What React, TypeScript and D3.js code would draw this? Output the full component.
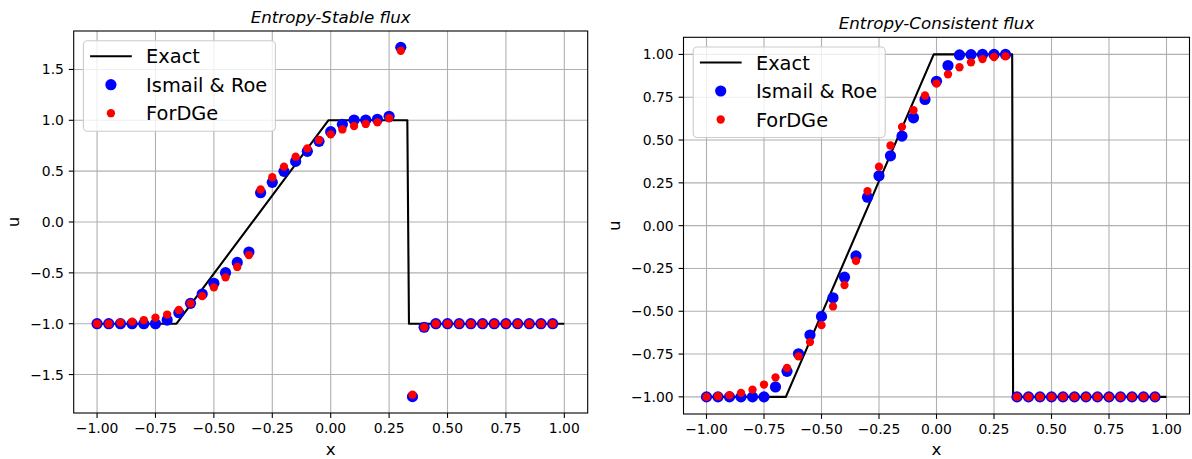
import React from "react";
import * as d3 from "d3";

// ---------- data ----------
const xPts = [
  -1.0, -0.95, -0.9, -0.85, -0.8, -0.75, -0.7, -0.65, -0.6, -0.55,
  -0.5, -0.45, -0.4, -0.35, -0.3, -0.25, -0.2, -0.15, -0.1, -0.05,
  0.0, 0.05, 0.1, 0.15, 0.2, 0.25, 0.3, 0.35, 0.4, 0.45,
  0.5, 0.55, 0.6, 0.65, 0.7, 0.75, 0.8, 0.85, 0.9, 0.95,
];

const stableIsmailRoe = [
  -1.0, -1.0, -1.0, -1.0, -1.0, -1.0, -0.964, -0.892, -0.8, -0.708,
  -0.603, -0.498, -0.397, -0.295, 0.288, 0.39, 0.498, 0.596, 0.695, 0.793,
  0.888, 0.96, 1.003, 1.003, 1.01, 1.04, 1.717, -1.717, -1.035, -1.0,
  -1.0, -1.0, -1.0, -1.0, -1.0, -1.0, -1.0, -1.0, -1.0, -1.0,
];
const stableForDGe = [
  -1.0, -1.0, -0.99, -0.98, -0.964, -0.94, -0.91, -0.865, -0.8, -0.728,
  -0.643, -0.544, -0.442, -0.325, 0.32, 0.44, 0.544, 0.642, 0.724, 0.806,
  0.862, 0.91, 0.944, 0.964, 0.98, 1.02, 1.684, -1.698, -1.035, -1.0,
  -1.0, -1.0, -1.0, -1.0, -1.0, -1.0, -1.0, -1.0, -1.0, -1.0,
];
const consistentIsmailRoe = [
  -1.0, -1.0, -1.0, -1.0, -1.0, -1.0, -0.942, -0.851, -0.748, -0.639,
  -0.53, -0.421, -0.301, -0.177, 0.166, 0.291, 0.408, 0.523, 0.63, 0.737,
  0.843, 0.935, 0.997, 0.999, 1.0, 1.0, 1.0, -1.0, -1.0, -1.0,
  -1.0, -1.0, -1.0, -1.0, -1.0, -1.0, -1.0, -1.0, -1.0, -1.0,
];
const consistentForDGe = [
  -1.0, -0.996, -0.99, -0.977, -0.958, -0.928, -0.886, -0.831, -0.763, -0.68,
  -0.581, -0.472, -0.347, -0.206, 0.202, 0.344, 0.468, 0.577, 0.674, 0.76,
  0.83, 0.884, 0.925, 0.954, 0.973, 0.985, 0.989, -1.0, -1.0, -1.0,
  -1.0, -1.0, -1.0, -1.0, -1.0, -1.0, -1.0, -1.0, -1.0, -1.0,
];

const stableExactX = [-1.0, -0.66, -0.01, 0.328, 0.335, 1.0];
const stableExactU = [-1.0, -1.0, 1.0, 1.0, -1.0, -1.0];
const consistentExactX = [-1.0, -0.655, -0.012, 0.329, 0.333, 1.0];
const consistentExactU = [-1.0, -1.0, 1.0, 1.0, -1.0, -1.0];

const xTicks = [-1.0, -0.75, -0.5, -0.25, 0.0, 0.25, 0.5, 0.75, 1.0];
const stableYTicks = [-1.5, -1.0, -0.5, 0.0, 0.5, 1.0, 1.5];
const consistentYTicks = [-1.0, -0.75, -0.5, -0.25, 0.0, 0.25, 0.5, 0.75, 1.0];

const legendLabels = ["Exact", "Ismail & Roe", "ForDGe"];

// ---------- styles ----------
const FONT = "DejaVu Sans, sans-serif";
const TICK_FS = 13.9;
const LABEL_FS = 16.7;
const LEGEND_FS = 19.4;
const GRID = "#b0b0b0";

type PanelProps = {
  left: number; right: number; top: number; bottom: number;
  yDomain: [number, number];
  yTicks: number[];
  yFmt: string;
  title: string;
  ylabelX: number;
  exactX: number[]; exactU: number[];
  ir: number[]; fd: number[];
};

function Panel(p: PanelProps) {
  const x = d3.scaleLinear().domain([-1.1, 1.1]).range([p.left, p.right]);
  const y = d3.scaleLinear().domain(p.yDomain).range([p.bottom, p.top]);
  const fx = d3.format(".2f");
  const fy = d3.format(p.yFmt);
  const line = d3.line<number>().x((d, i) => x(p.exactX[i])).y((d) => y(d));
  const cx = (p.left + p.right) / 2;
  const cy = (p.top + p.bottom) / 2;
  const tl = 4.9;

  const lgX = p.left + 9.7;
  const lgY = p.top + 9.7;
  const rows = [15.5, 44, 72.5];

  return (
    <g>
      <defs>
        <clipPath id={`clip-${p.left}`}>
          <rect x={p.left} y={p.top} width={p.right - p.left} height={p.bottom - p.top} />
        </clipPath>
      </defs>
      {/* grid */}
      {xTicks.map((t) => (
        <line key={`gx${t}`} x1={x(t)} x2={x(t)} y1={p.top} y2={p.bottom} stroke={GRID} strokeWidth={1.1} />
      ))}
      {p.yTicks.map((t) => (
        <line key={`gy${t}`} x1={p.left} x2={p.right} y1={y(t)} y2={y(t)} stroke={GRID} strokeWidth={1.1} />
      ))}
      <g clipPath={`url(#clip-${p.left})`}>
        <path d={line(p.exactU) || ""} fill="none" stroke="black" strokeWidth={2.1} strokeLinejoin="round" />
        {p.ir.map((u, i) => (
          <circle key={`b${i}`} cx={x(xPts[i])} cy={y(u)} r={5.6} fill="#0000ff" />
        ))}
        {p.fd.map((u, i) => (
          <circle key={`r${i}`} cx={x(xPts[i])} cy={y(u)} r={4.15} fill="#ff0000" />
        ))}
      </g>
      {/* frame */}
      <rect x={p.left} y={p.top} width={p.right - p.left} height={p.bottom - p.top} fill="none" stroke="black" strokeWidth={1.1} />
      {/* x ticks */}
      {xTicks.map((t) => (
        <g key={`tx${t}`}>
          <line x1={x(t)} x2={x(t)} y1={p.bottom} y2={p.bottom + tl} stroke="black" strokeWidth={1.1} />
          <text x={x(t)} y={p.bottom + tl + 4.9 + 10.6} textAnchor="middle" fontFamily={FONT} fontSize={TICK_FS} fill="black">
            {fx(t)}
          </text>
        </g>
      ))}
      {p.yTicks.map((t) => (
        <g key={`ty${t}`}>
          <line x1={p.left - tl} x2={p.left} y1={y(t)} y2={y(t)} stroke="black" strokeWidth={1.1} />
          <text x={p.left - tl - 4.9} y={y(t) + 5} textAnchor="end" fontFamily={FONT} fontSize={TICK_FS} fill="black">
            {fy(t)}
          </text>
        </g>
      ))}
      {/* labels */}
      <text x={cx} y={454.5} textAnchor="middle" fontFamily={FONT} fontSize={LABEL_FS} fill="black">x</text>
      <text transform={`translate(${p.ylabelX},${cy}) rotate(-90)`} textAnchor="middle" fontFamily={FONT} fontSize={LABEL_FS} fill="black">u</text>
      <text x={cx} y={p.top - 8.3} textAnchor="middle" fontFamily={FONT} fontStyle="italic" fontSize={LABEL_FS} fill="black">
        {p.title}
      </text>
      {/* legend */}
      <rect x={lgX} y={lgY} width={192} height={90.5} rx={4} ry={4} fill="white" fillOpacity={0.8} stroke="#cccccc" strokeWidth={1.1} />
      <line x1={lgX + 6.7} x2={lgX + 48.4} y1={lgY + rows[0]} y2={lgY + rows[0]} stroke="black" strokeWidth={2.1} />
      <circle cx={lgX + 27.5} cy={lgY + rows[1]} r={5.6} fill="#0000ff" />
      <circle cx={lgX + 27.5} cy={lgY + rows[2]} r={4.15} fill="#ff0000" />
      {legendLabels.map((s, i) => (
        <text key={s} x={lgX + 62.7} y={lgY + rows[i] + 7} fontFamily={FONT} fontSize={LEGEND_FS} fill="black">
          {s}
        </text>
      ))}
    </g>
  );
}

export default function App() {
  return (
    <svg width={1192} height={459} style={{ position: "absolute", left: 0, top: 0, background: "white" }}>
      <rect x={0} y={0} width={1192} height={459} fill="white" />
      <Panel
        left={73.7} right={587.7} top={31} bottom={413}
        yDomain={[-1.878, 1.878]} yTicks={stableYTicks} yFmt=".1f"
        title="Entropy-Stable flux" ylabelX={18.5}
        exactX={stableExactX} exactU={stableExactU}
        ir={stableIsmailRoe} fd={stableForDGe}
      />
      <Panel
        left={683.5} right={1189.5} top={37.3} bottom={414}
        yDomain={[-1.1, 1.1]} yTicks={consistentYTicks} yFmt=".2f"
        title="Entropy-Consistent flux" ylabelX={619.5}
        exactX={consistentExactX} exactU={consistentExactU}
        ir={consistentIsmailRoe} fd={consistentForDGe}
      />
    </svg>
  );
}
